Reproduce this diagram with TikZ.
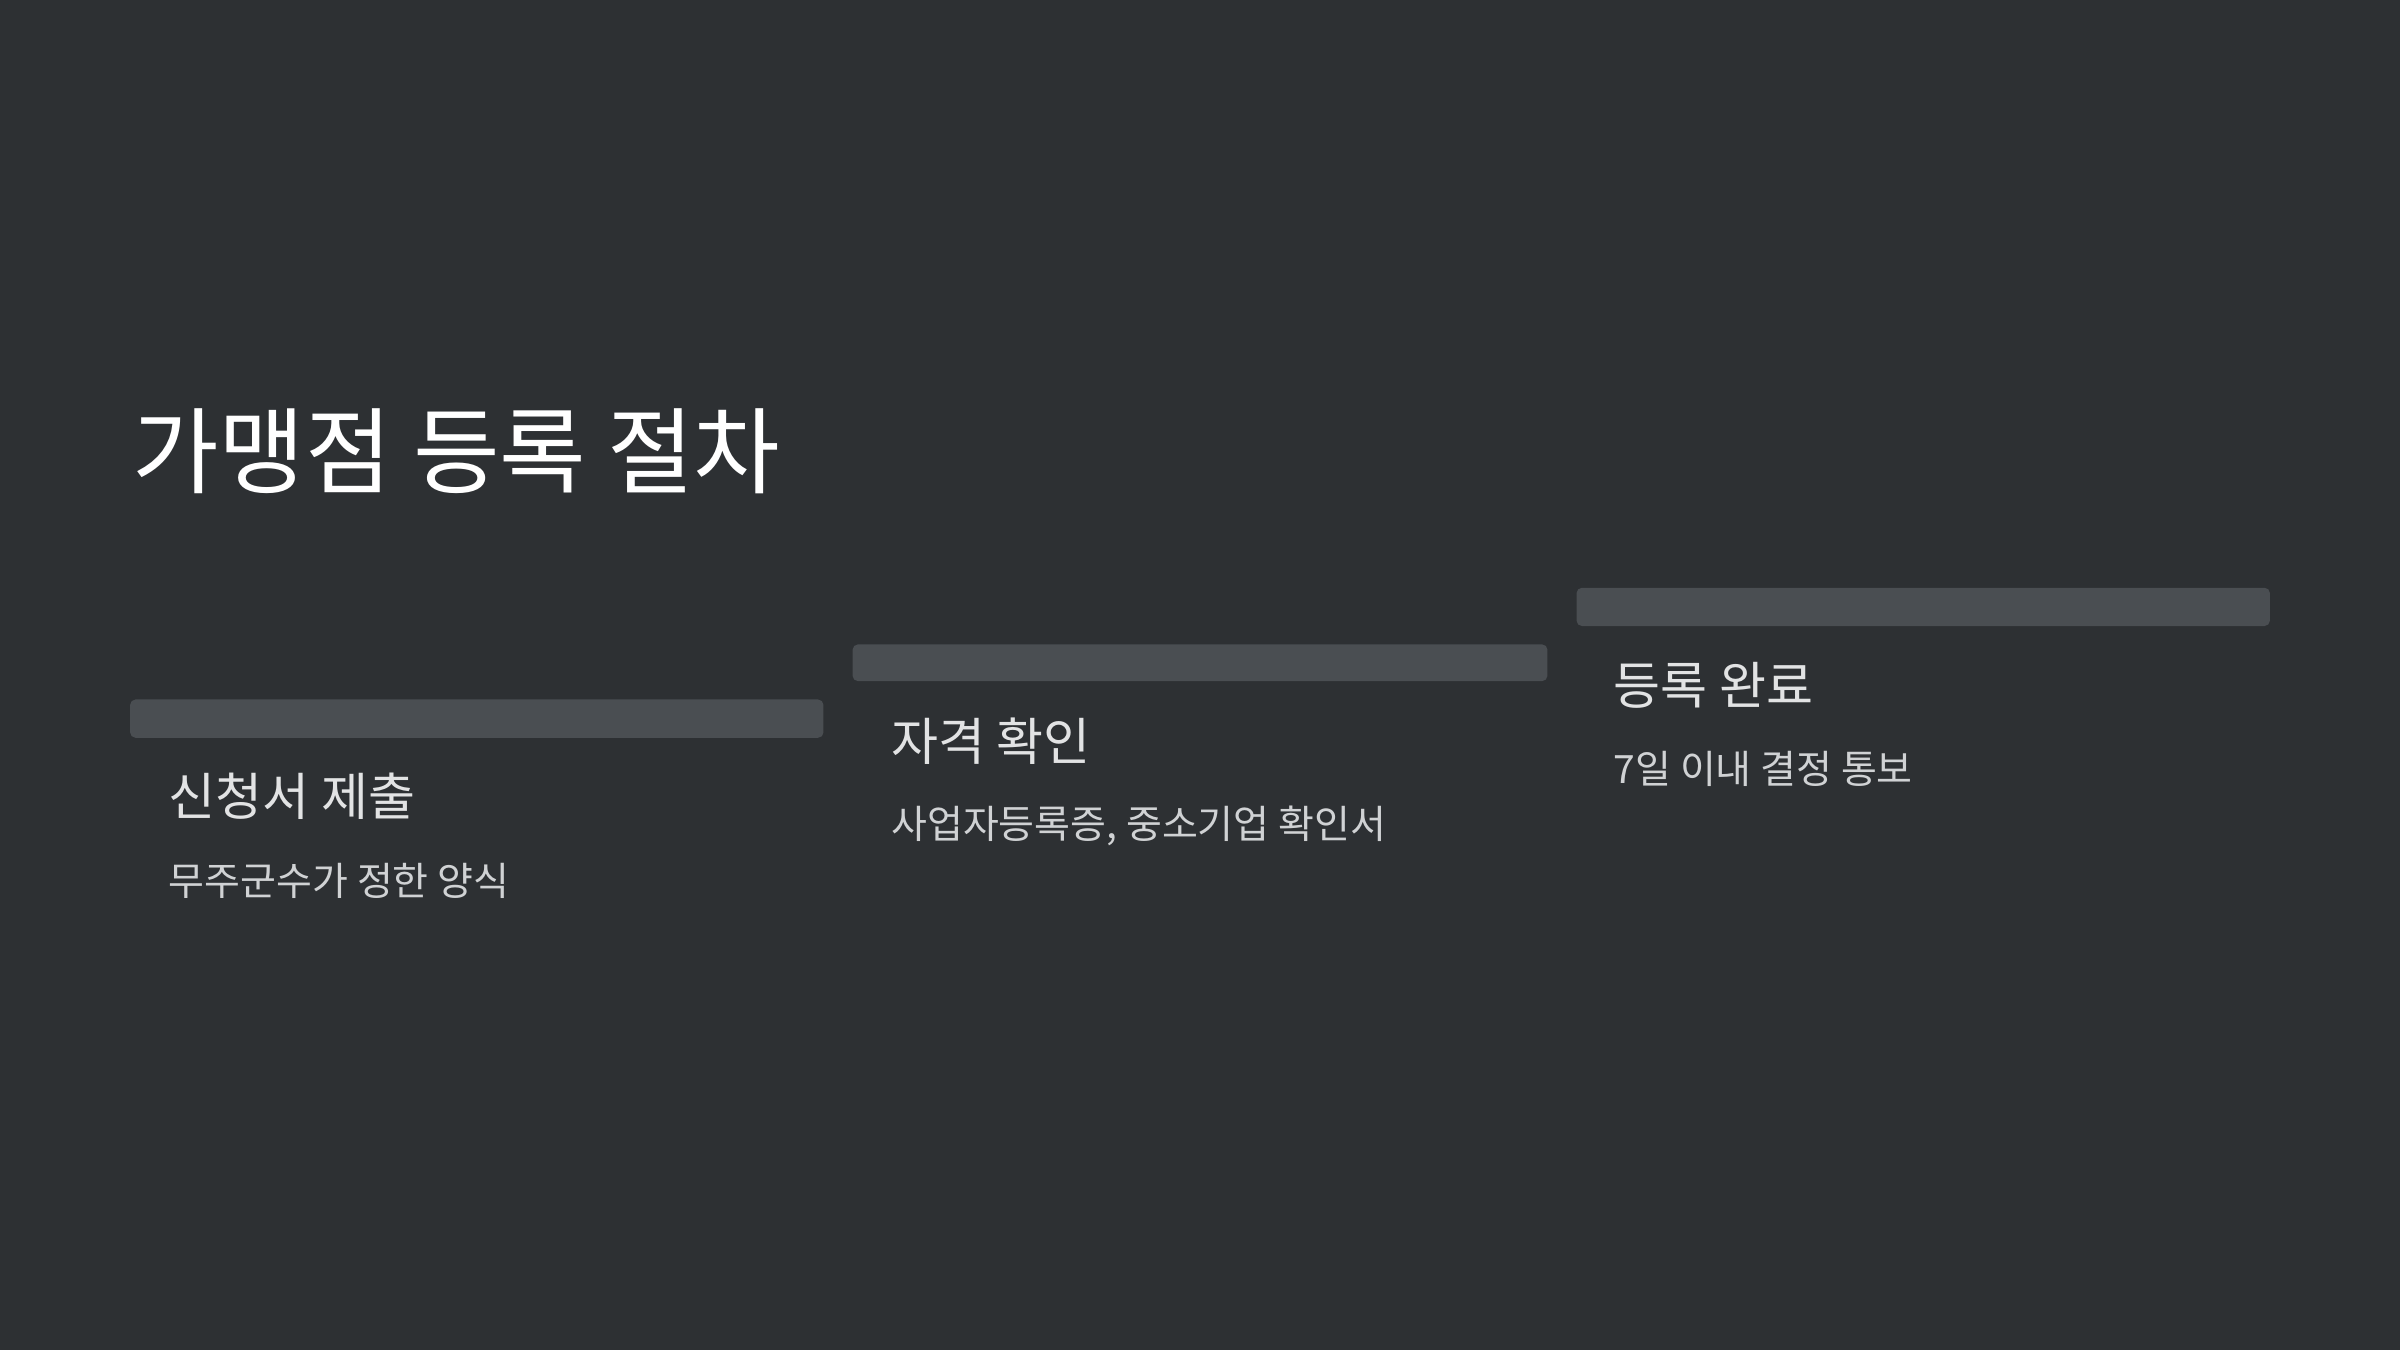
\documentclass[tikz,border=0pt]{standalone}
\usepackage{fontspec}
\newfontfamily\kr{Noto Sans CJK KR}
\definecolor{bg}{HTML}{2D3033}
\definecolor{bar}{HTML}{4A4E52}
\definecolor{head}{HTML}{E2E3E4}
\definecolor{sub}{HTML}{D0D2D4}
\begin{document}
\begin{tikzpicture}[x=0.02cm,y=-0.02cm,
  barbox/.style={fill=bar,rounded corners=2pt},
  headtxt/.style={anchor=base west,inner sep=0pt,text=head,font=\kr\fontsize{19pt}{22pt}\selectfont},
  subtxt/.style={anchor=base west,inner sep=0pt,text=sub,font=\kr\fontsize{14.5pt}{17pt}\selectfont}]
\fill[bg] (0,0) rectangle (1568,882);
\useasboundingbox (0,0) rectangle (1568,882);
\node[anchor=base west,inner sep=0pt,text=white,font=\kr\fontsize{35pt}{40pt}\selectfont] (title) at (86,318) {가맹점 등록 절차};
\path[barbox] (85,457) rectangle (538,482);
\path[barbox] (557,421) rectangle (1011,445);
\path[barbox] (1030,384) rectangle (1483,409);
\node[headtxt] (h1) at (110,533) {신청서 제출};
\node[subtxt] (s1) at (110,585) {무주군수가 정한 양식};
\node[headtxt] (h2) at (582,497) {자격 확인};
\node[subtxt] (s2) at (582,548) {사업자등록증, 중소기업 확인서};
\node[headtxt] (h3) at (1054,460) {등록 완료};
\node[subtxt] (s3) at (1054,512) {7일 이내 결정 통보};
\end{tikzpicture}
\end{document}
